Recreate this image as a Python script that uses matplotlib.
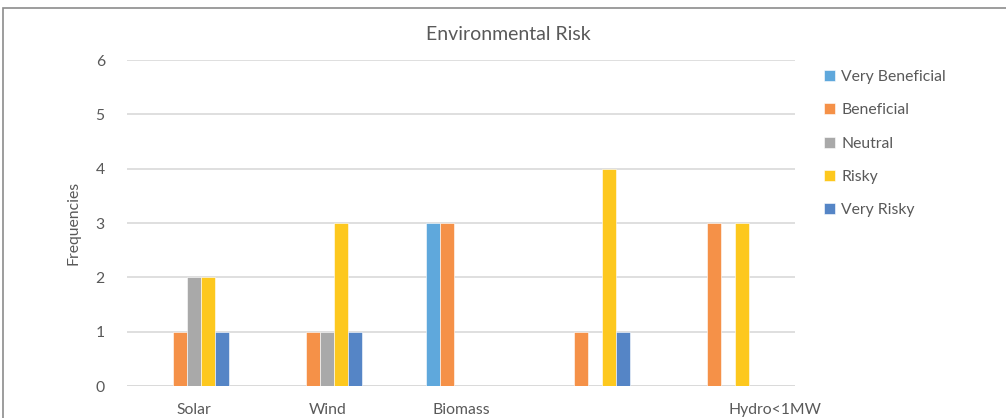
import numpy as np
import matplotlib.pyplot as plt
from matplotlib.patches import Rectangle

plt.rcParams['font.family'] = ['Lato', 'DejaVu Sans']

categories = ["Solar", "Wind", "Biomass", "", "Hydro<1MW"]
series = ["Very Beneficial", "Beneficial", "Neutral", "Risky", "Very Risky"]
very_beneficial = [0, 0, 3, 0, 0]
beneficial = [1, 1, 3, 1, 3]
neutral = [2, 1, 0, 0, 0]
risky = [2, 3, 0, 4, 3]
very_risky = [1, 1, 0, 1, 0]
colors = ["#5FA8DC", "#F59148", "#A9A9A9", "#FDC81E", "#5585C6"]

values = [very_beneficial, beneficial, neutral, risky, very_risky]

fig = plt.figure(figsize=(10.06, 4.18), dpi=100)
ax = fig.add_axes([127 / 1006, 32 / 418, 668 / 1006, 326 / 418])

# chart frame (cropped Excel chart, only top/left edges visible)
fig.patches.append(Rectangle((3 / 1006, -0.1), 1.2, (418 - 8) / 418 + 0.1,
                             transform=fig.transFigure, fill=False,
                             edgecolor="#8C8C8C", linewidth=1.2))

x = np.arange(len(categories))
w = 0.105
for i, (name, vals, c) in enumerate(zip(series, values, colors)):
    ax.bar(x + (i - 2) * w, vals, width=w, color=c, label=name,
           edgecolor="white", linewidth=0.4, zorder=3)

ax.set_xlim(-0.5, len(categories) - 0.5)
ax.set_ylim(0, 6)
ax.set_yticks(range(0, 7))
ax.grid(axis="y", color="#D9D9D9", linewidth=1.2, zorder=0)
for s in ax.spines.values():
    s.set_visible(False)
ax.axhline(0, color="#D9D9D9", linewidth=1.2, zorder=2)

ax.set_xticks(x)
ax.set_xticklabels(categories)
ax.get_xticklabels()[4].set_horizontalalignment("left")
ax.tick_params(axis="x", length=0, pad=12, labelsize=11.3, labelcolor="#595959")
ax.tick_params(axis="y", length=0, pad=16, labelsize=11.3, labelcolor="#595959")

ax.set_ylabel("Frequencies", fontsize=11.3, color="#595959", labelpad=11)
fig.text(508 / 1006, 1 - 35 / 418, "Environmental Risk", ha="center", va="center",
         fontsize=14, color="#595959")

leg = ax.legend(loc="upper left", bbox_to_anchor=(1.022, 1.012), frameon=False,
                fontsize=11.3, labelspacing=1.22, handlelength=0.7,
                handleheight=0.7, handletextpad=0.4)
for t in leg.get_texts():
    t.set_color("#595959")

fig.savefig("out.png", dpi=100)
